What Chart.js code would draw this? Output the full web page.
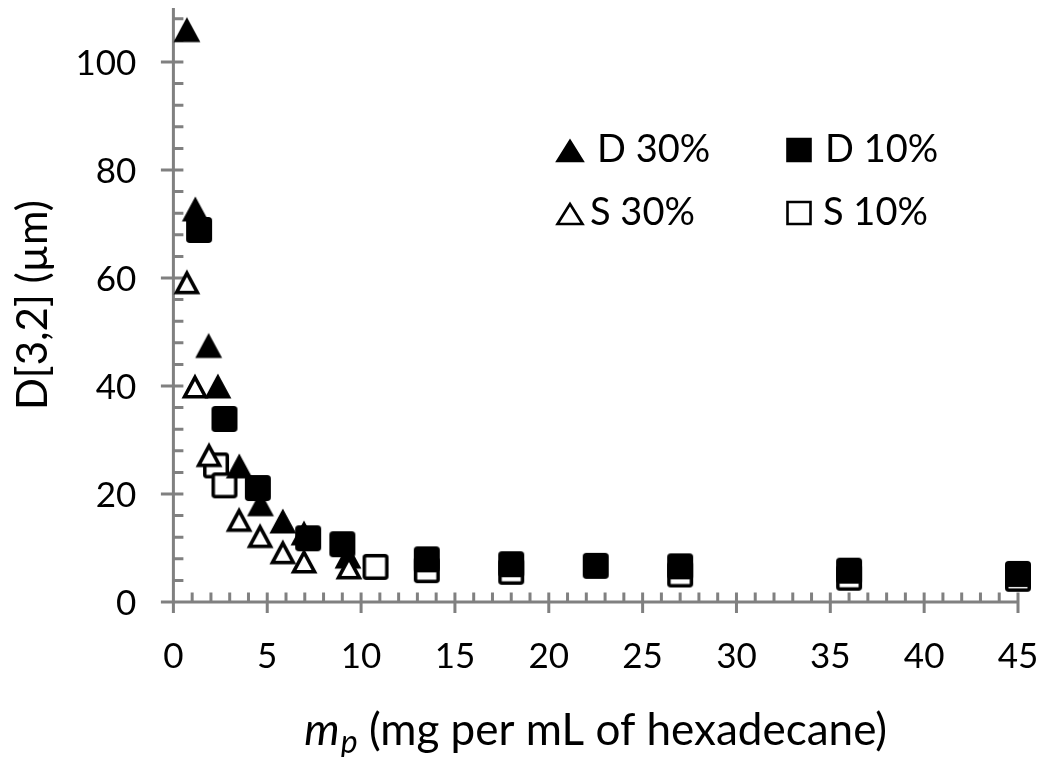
<!DOCTYPE html>
<html>
<head>
<meta charset="utf-8">
<title>D[3,2] against particle loading</title>
<script src="https://cdn.jsdelivr.net/npm/chart.js@4.4.1/dist/chart.umd.min.js"></script>
<style>
  html, body { margin: 0; padding: 0; background: #ffffff; }
  #box { width: 1040px; height: 757px; }
</style>
</head>
<body>
<div id="box"><canvas id="chart" width="1040" height="757"></canvas></div>
<script>
// Sauter mean diameter D[3,2] (µm) against particle loading m_p (mg per mL of hexadecane)
const d30X = [0.72, 1.17, 1.88, 2.37, 3.51, 4.64, 5.83, 6.96, 9.3];
const d30Y = [106, 72.8, 47.5, 40.0, 25.2, 18.2, 15.0, 12.8, 8.5];
const s30X = [0.72, 1.15, 1.9, 3.5, 4.62, 5.83, 6.96, 9.35];
const s30Y = [59.3, 40.0, 27.3, 15.3, 12.3, 9.3, 7.6, 6.5];
const d10X = [1.37, 2.72, 4.5, 7.18, 9.0, 13.5, 18, 22.5, 27, 36, 45];
const d10Y = [68.9, 33.9, 21.1, 11.8, 10.7, 7.9, 7.0, 6.7, 6.6, 5.8, 5.2];
const s10X = [2.27, 2.72, 10.77, 13.5, 18, 27, 36, 45];
const s10Y = [25.3, 21.6, 6.5, 5.9, 5.6, 5.1, 4.5, 4.3];

const xTickLabels = [0, 5, 10, 15, 20, 25, 30, 35, 40, 45];
const yTickLabels = [0, 20, 40, 60, 80, 100];
const seriesNames = ['D 30%', 'D 10%', 'S 30%', 'S 10%'];

const AXIS_GREY = '#808080';
const FONT = 'Lato, "Open Sans", sans-serif';

function toPoints(xs, ys) { return xs.map((x, i) => ({ x: x, y: ys[i] })); }

// Marker bitmaps: black outline, filled black or white
function marker(shape, filled) {
  const c = document.createElement('canvas');
  c.width = 30; c.height = 30;
  const g = c.getContext('2d');
  g.lineWidth = 3.5;
  g.lineJoin = 'miter';
  g.strokeStyle = '#000';
  g.fillStyle = filled ? '#000' : '#fff';
  g.beginPath();
  if (shape === 'triangle') {
    g.moveTo(15, 6.3);
    g.lineTo(25.5, 25.8);
    g.lineTo(4.5, 25.8);
    g.closePath();
  } else {
    g.roundRect(3.75, 3.75, 22.5, 22.5, 2);
  }
  g.fill();
  g.stroke();
  return c;
}

const styles = {
  'D 30%': marker('triangle', true),
  'D 10%': marker('square', true),
  'S 30%': marker('triangle', false),
  'S 10%': marker('square', false)
};

// Axis lines, major/minor tick marks, tick labels
const framePlugin = {
  id: 'frame',
  beforeDatasetsDraw(chart) {
    const ctx = chart.ctx;
    const xs = chart.scales.x, ys = chart.scales.y;
    const x0 = xs.getPixelForValue(xs.min), y0 = ys.getPixelForValue(ys.min);
    const xEnd = xs.getPixelForValue(xs.max), yTop = ys.getPixelForValue(ys.max);
    ctx.save();
    ctx.strokeStyle = AXIS_GREY;
    ctx.lineWidth = 3;
    ctx.beginPath();
    ctx.moveTo(x0, yTop); ctx.lineTo(x0, y0 + 1.5);
    ctx.moveTo(x0 - 1.5, y0); ctx.lineTo(xEnd + 1.5, y0);
    for (let v = xs.min; v <= xs.max + 1e-9; v += 1) {
      const p = xs.getPixelForValue(v);
      ctx.moveTo(p, y0); ctx.lineTo(p, y0 - 9.5);
    }
    for (let v = ys.min; v <= ys.max + 1e-9; v += 4) {
      const p = ys.getPixelForValue(v);
      ctx.moveTo(x0, p); ctx.lineTo(x0 + 10, p);
    }
    xs.ticks.forEach(t => {
      const p = xs.getPixelForValue(t.value);
      ctx.moveTo(p, y0 - 9.5); ctx.lineTo(p, y0 + 11);
    });
    ys.ticks.forEach(t => {
      const p = ys.getPixelForValue(t.value);
      ctx.moveTo(x0 - 12.5, p); ctx.lineTo(x0 + 10, p);
    });
    ctx.stroke();

    ctx.fillStyle = '#000';
    ctx.font = '35px ' + FONT;
    ctx.textBaseline = 'alphabetic';
    ctx.textAlign = 'center';
    xs.ticks.forEach(t => ctx.fillText(String(t.value), xs.getPixelForValue(t.value), y0 + 66));
    ctx.textAlign = 'right';
    ys.ticks.forEach(t => ctx.fillText(String(t.value), x0 - 37, ys.getPixelForValue(t.value) + 12.5));
    ctx.restore();
  },
  afterDraw(chart) {
    const ctx = chart.ctx;
    const area = chart.chartArea;
    ctx.save();
    ctx.fillStyle = '#000';
    ctx.textBaseline = 'alphabetic';

    // y-axis title
    ctx.save();
    ctx.translate(47, (area.top + area.bottom) / 2);
    ctx.rotate(-Math.PI / 2);
    ctx.textAlign = 'center';
    ctx.font = '42px ' + FONT;
    ctx.fillText('D[3,2] (µm)', 0, 0);
    ctx.restore();

    // x-axis title with italic m and subscript p
    ctx.textAlign = 'left';
    const mainFont = '44px ' + FONT, itFont = 'italic 45px ' + FONT, subFont = 'italic 32px ' + FONT;
    const rest = ' (mg per mL of hexadecane)';
    ctx.font = itFont; const wm = ctx.measureText('m').width;
    ctx.font = subFont; const wp = ctx.measureText('p').width;
    ctx.font = mainFont; const wr = ctx.measureText(rest).width;
    const total = wm + 1 + wp + wr;
    let tx = (area.left + area.right) / 2 - total / 2;
    const base = 745;
    ctx.font = itFont; ctx.fillText('m', tx, base); tx += wm + 1;
    ctx.font = subFont; ctx.fillText('p', tx, base + 8); tx += wp;
    ctx.font = mainFont; ctx.fillText(rest, tx, base);

    // legend, two columns by two rows
    const cells = [
      { name: seriesNames[0], sx: 570, tx: 597, base: 162, shape: 'triangle', filled: true },
      { name: seriesNames[1], sx: 799, tx: 825, base: 162, shape: 'square', filled: true },
      { name: seriesNames[2], sx: 570, tx: 590, base: 225, shape: 'triangle', filled: false },
      { name: seriesNames[3], sx: 799, tx: 823, base: 225, shape: 'square', filled: false }
    ];
    cells.forEach(c => {
      ctx.save();
      ctx.lineWidth = 2.6;
      ctx.strokeStyle = '#000';
      ctx.fillStyle = c.filled ? '#000' : '#fff';
      ctx.beginPath();
      if (c.shape === 'triangle') {
        ctx.moveTo(c.sx, c.base - 21);
        ctx.lineTo(c.sx + 12.5, c.base - 1);
        ctx.lineTo(c.sx - 12.5, c.base - 1);
        ctx.closePath();
      } else {
        ctx.rect(c.sx - 11.5, c.base - 23, 23, 22);
      }
      ctx.fill();
      ctx.stroke();
      ctx.restore();
      ctx.font = '38px ' + FONT;
      ctx.fillText(c.name, c.tx, c.base);
    });
    ctx.restore();
  }
};

function series(name, xs, ys, order) {
  return {
    label: name,
    data: toPoints(xs, ys),
    pointStyle: styles[name],
    pointRadius: 13,
    pointHoverRadius: 13,
    showLine: false,
    clip: false,
    order: order
  };
}

function build() {
  new Chart(document.getElementById('chart'), {
    type: 'scatter',
    data: {
      datasets: [
        series('D 10%', d10X, d10Y, 0),
        series('S 30%', s30X, s30Y, 1),
        series('D 30%', d30X, d30Y, 2),
        series('S 10%', s10X, s10Y, 3)
      ]
    },
    options: {
      responsive: false,
      devicePixelRatio: 1,
      animation: false,
      layout: { autoPadding: false, padding: { left: 0, right: 22, top: 8, bottom: 0 } },
      plugins: { legend: { display: false }, tooltip: { enabled: false } },
      scales: {
        x: {
          type: 'linear', min: 0, max: 45, bounds: 'data',
          grid: { display: false, drawTicks: false },
          border: { display: false },
          ticks: { display: false },
          afterBuildTicks: s => { s.ticks = xTickLabels.map(v => ({ value: v })); },
          afterFit: s => { s.height = 155; }
        },
        y: {
          type: 'linear', min: 0, max: 110, bounds: 'data',
          grid: { display: false, drawTicks: false },
          border: { display: false },
          ticks: { display: false },
          afterBuildTicks: s => { s.ticks = yTickLabels.map(v => ({ value: v })); },
          afterFit: s => { s.width = 173.4; }
        }
      }
    },
    plugins: [framePlugin]
  });
}

if (document.fonts && document.fonts.load) {
  Promise.all([
    document.fonts.load('35px Lato'),
    document.fonts.load('italic 44px Lato')
  ]).then(build, build);
} else {
  build();
}
</script>
</body>
</html>
